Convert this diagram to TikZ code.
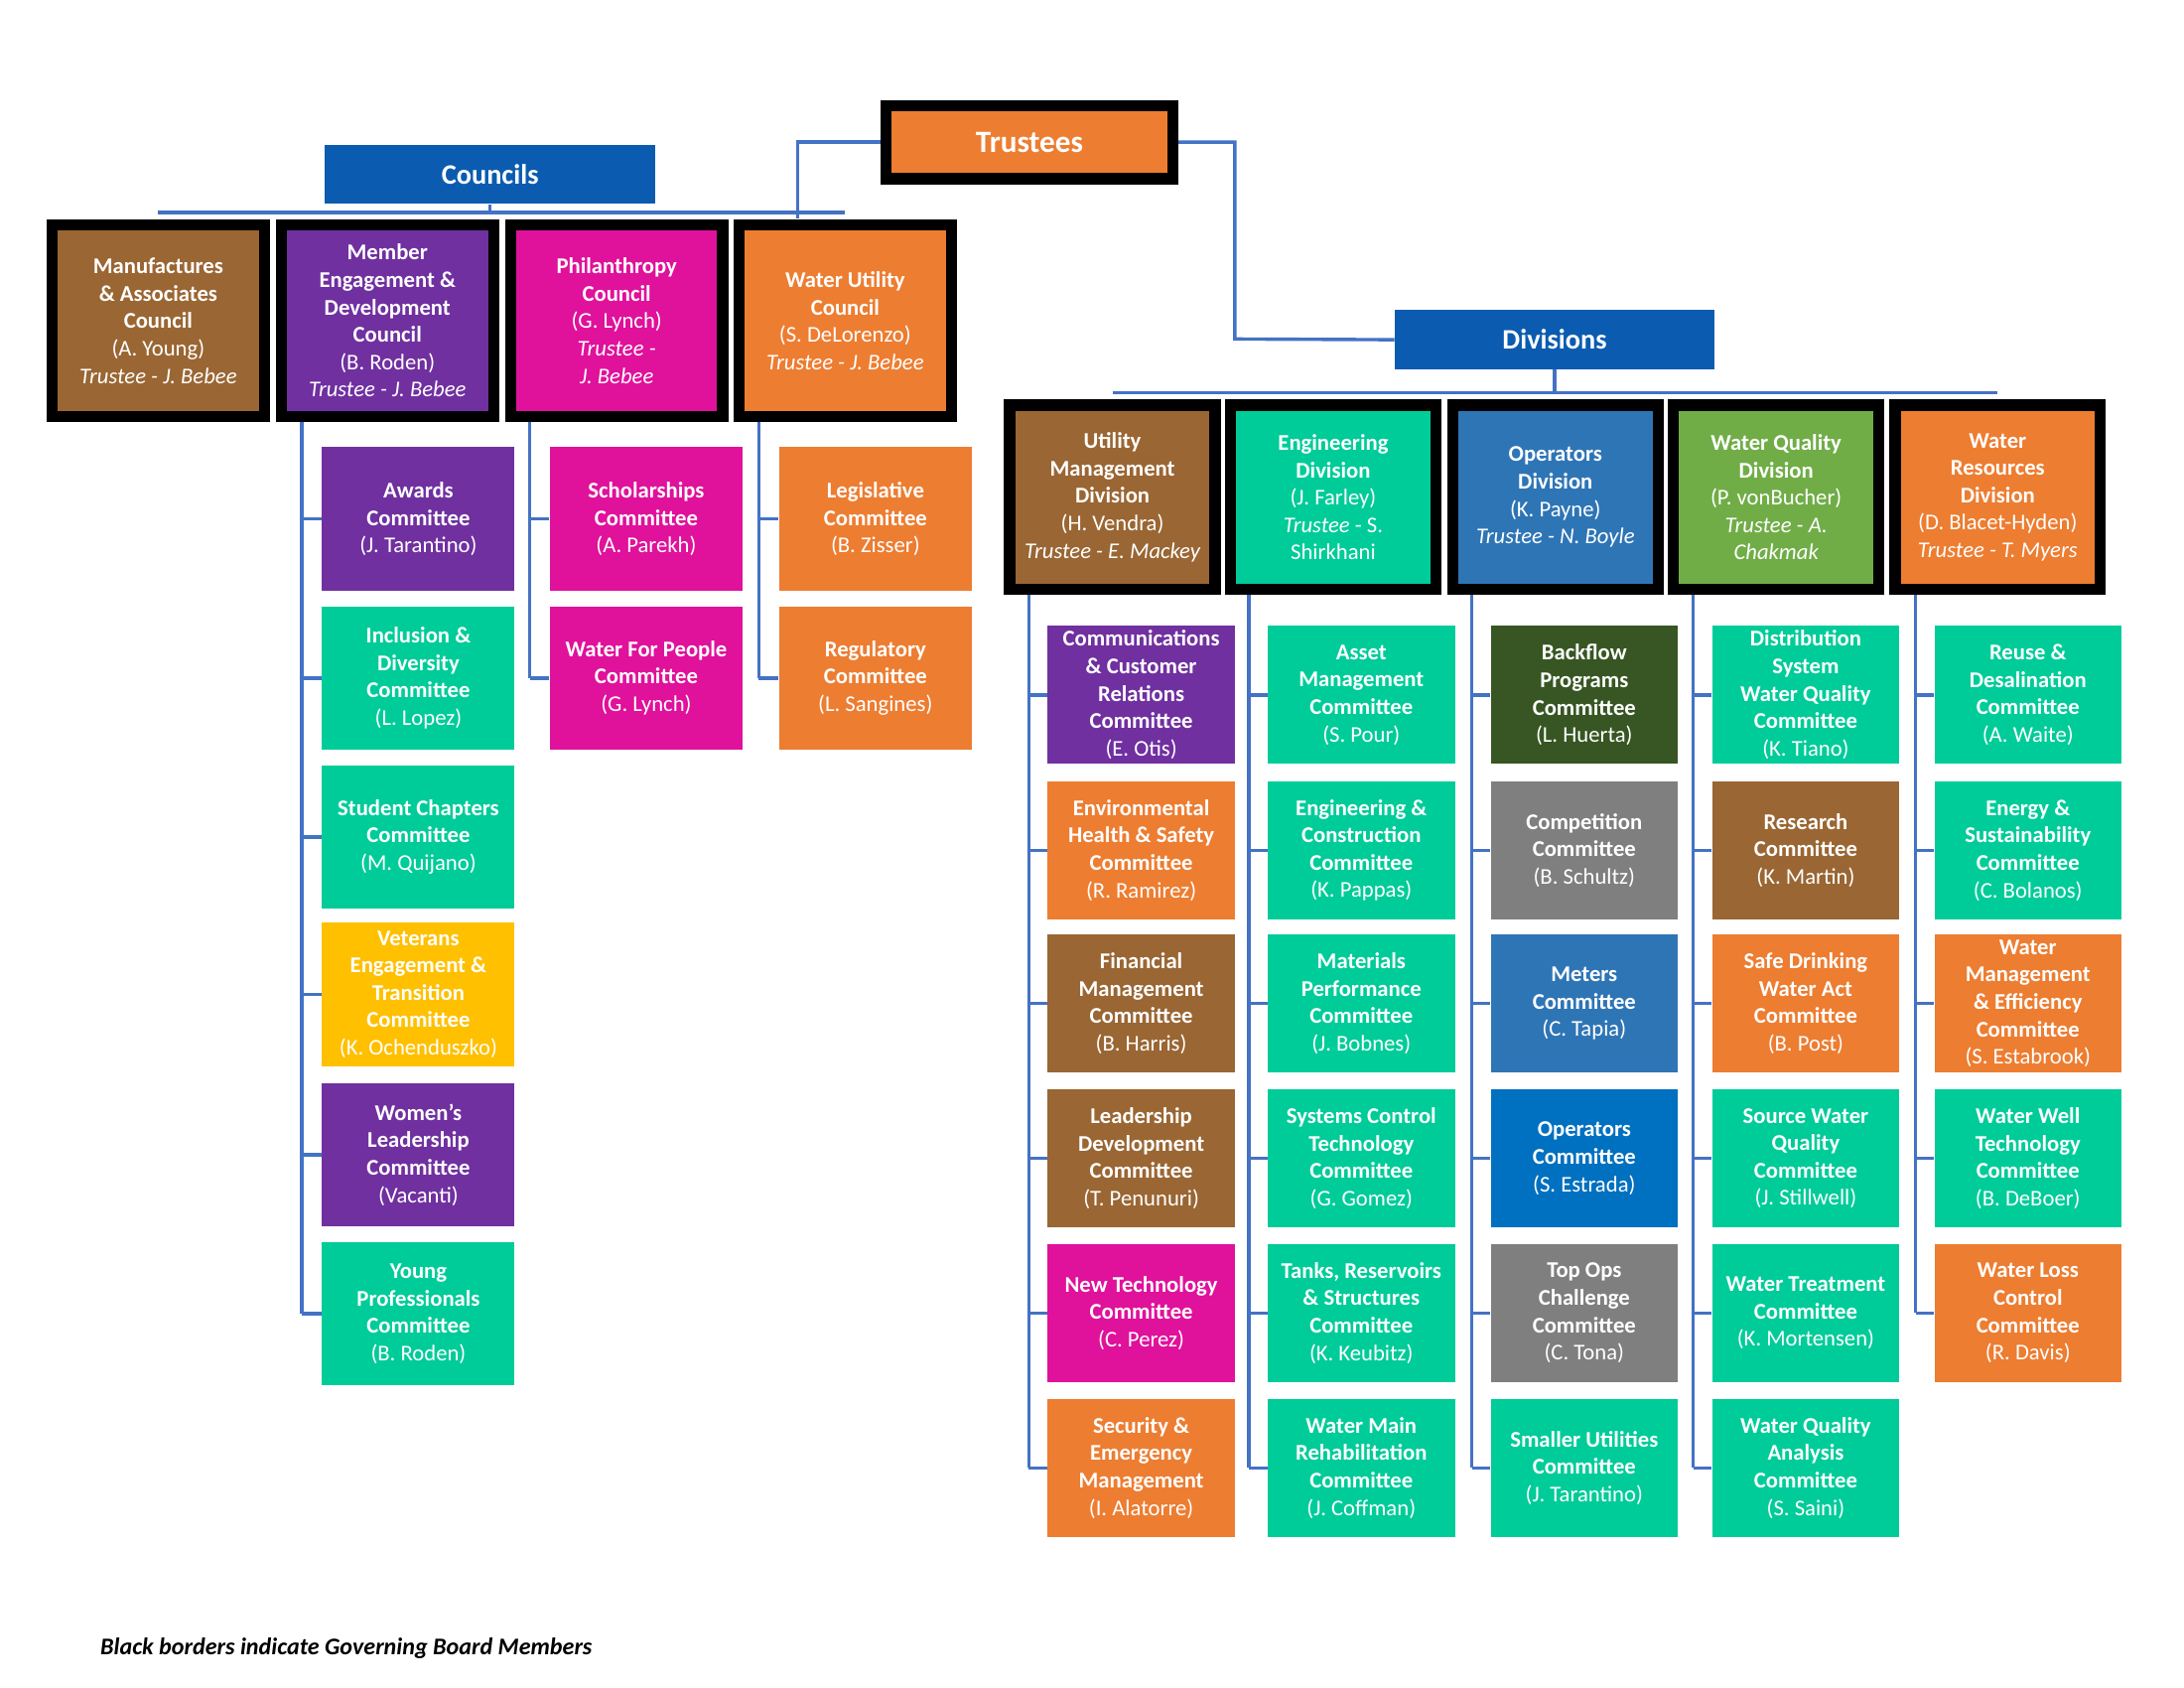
\documentclass[tikz,border=0pt]{standalone}
\usepackage{fontspec}
\setmainfont{Carlito}
\usepackage{tikz}
\definecolor{cbrown}{HTML}{9A6633}
\definecolor{cpurple}{HTML}{7030A0}
\definecolor{cmagenta}{HTML}{E0119B}
\definecolor{corange}{HTML}{ED7D31}
\definecolor{cteal}{HTML}{00CC99}
\definecolor{cyellow}{HTML}{FFC000}
\definecolor{csteel}{HTML}{2E75B6}
\definecolor{chead}{HTML}{0B5CB0}
\definecolor{cblue}{HTML}{0070C0}
\definecolor{cdkgreen}{HTML}{375623}
\definecolor{cgray}{HTML}{7F7F7F}
\definecolor{clime}{HTML}{70AD47}
\definecolor{cline}{HTML}{4472C4}
\newcommand{\pn}[1]{{\mdseries #1}}
\newcommand{\tr}[1]{{\mdseries\itshape #1}}
\tikzset{every node/.style={font=\bfseries\fontsize{8}{9.75}\selectfont, text=white, align=center, inner sep=0pt}}
\begin{document}
\begin{tikzpicture}[x=0.5pt,y=-0.5pt,
  ln/.style={draw=cline, line width=1.2pt},
  head/.style={fill=chead, minimum height=21pt, font=\bfseries\fontsize{10}{12}\selectfont},
  board/.style={draw=black, line width=4pt, minimum width=75.5pt, minimum height=68pt},
  dboard/.style={draw=black, line width=4pt, minimum width=73pt, minimum height=65.5pt},
  ccom/.style={minimum width=68.5pt, minimum height=51pt},
  dcom/.style={minimum width=66.5pt, minimum height=49pt}]
\useasboundingbox (0,0) rectangle (1553,1200);
% top level
\node[draw=black, line width=4pt, fill=corange, minimum width=102pt, minimum height=26pt,
  font=\bfseries\fontsize{11}{13}\selectfont] (trustees) at (732,101) {Trustees};
\node[head, minimum width=117.5pt] (councils) at (348.5,124) {Councils};
\node[head, minimum width=113.5pt] (divisions) at (1105.5,241.5) {Divisions};
% councils
\node[board, fill=cbrown] (c1) at (112.5,228) {Manufactures\\\& Associates\\Council\\\pn{(A. Young)}\\\tr{Trustee - J. Bebee}};
\node[board, fill=cpurple] (c2) at (275.5,228) {Member\\Engagement \&\\Development\\Council\\\pn{(B. Roden)}\\\tr{Trustee - J. Bebee}};
\node[board, fill=cmagenta] (c3) at (438.5,228) {Philanthropy\\Council\\\pn{(G. Lynch)}\\\tr{Trustee -}\\\tr{J. Bebee}};
\node[board, fill=corange] (c4) at (601,228) {Water Utility\\Council\\\pn{(S. DeLorenzo)}\\\tr{Trustee - J. Bebee}};
% divisions
\node[dboard, fill=cbrown] (d1) at (791,353.5) {Utility\\Management\\Division\\\pn{(H. Vendra)}\\\tr{Trustee - E. Mackey}};
\node[dboard, fill=cteal] (d2) at (948,353.5) {Engineering\\Division\\\pn{(J. Farley)}\\\tr{Trustee} \pn{- S.}\\\pn{Shirkhani}};
\node[dboard, fill=csteel] (d3) at (1106,353.5) {Operators\\Division\\\pn{(K. Payne)}\\\tr{Trustee - N. Boyle}};
\node[dboard, fill=clime] (d4) at (1263,353.5) {Water Quality\\Division\\\pn{(P. vonBucher)}\\\tr{Trustee - A.}\\\tr{Chakmak}};
\node[dboard, fill=corange] (d5) at (1420.5,353.5) {Water\\Resources\\Division\\\pn{(D. Blacet-Hyden)}\\\tr{Trustee - T. Myers}};
% council committees
\node[ccom, fill=cpurple] (a1) at (297.5,369) {Awards\\Committee\\\pn{(J. Tarantino)}};
\node[ccom, fill=cteal] (a2) at (297.5,482) {Inclusion \&\\Diversity\\Committee\\\pn{(L. Lopez)}};
\node[ccom, fill=cteal] (a3) at (297.5,595) {Student Chapters\\Committee\\\pn{(M. Quijano)}};
\node[ccom, fill=cyellow] (a4) at (297.5,707) {Veterans\\Engagement \&\\Transition\\Committee\\\pn{(K. Ochenduszko)}};
\node[ccom, fill=cpurple] (a5) at (297.5,821) {Women's\\Leadership\\Committee\\\pn{(Vacanti)}};
\node[ccom, fill=cteal] (a6) at (297.5,934) {Young\\Professionals\\Committee\\\pn{(B. Roden)}};
\node[ccom, fill=cmagenta] (b1) at (459.5,369) {Scholarships\\Committee\\\pn{(A. Parekh)}};
\node[ccom, fill=cmagenta] (b2) at (459.5,482) {Water For People\\Committee\\\pn{(G. Lynch)}};
\node[ccom, fill=corange] (w1) at (622.5,369) {Legislative\\Committee\\\pn{(B. Zisser)}};
\node[ccom, fill=corange] (w2) at (622.5,482) {Regulatory\\Committee\\\pn{(L. Sangines)}};
% utility management
\node[dcom, fill=cpurple] (u1) at (811.5,494) {Communications\\\& Customer\\Relations\\Committee\\\pn{(E. Otis)}};
\node[dcom, fill=corange] (u2) at (811.5,604.5) {Environmental\\Health \& Safety\\Committee\\\pn{(R. Ramirez)}};
\node[dcom, fill=cbrown] (u3) at (811.5,713.5) {Financial\\Management\\Committee\\\pn{(B. Harris)}};
\node[dcom, fill=cbrown] (u4) at (811.5,823.5) {Leadership\\Development\\Committee\\\pn{(T. Penunuri)}};
\node[dcom, fill=cmagenta] (u5) at (811.5,933.5) {New Technology\\Committee\\\pn{(C. Perez)}};
\node[dcom, fill=corange] (u6) at (811.5,1043.5) {Security \&\\Emergency\\Management\\\pn{(I. Alatorre)}};
% engineering
\node[dcom, fill=cteal] (e1) at (968,494) {Asset\\Management\\Committee\\\pn{(S. Pour)}};
\node[dcom, fill=cteal] (e2) at (968,604.5) {Engineering \&\\Construction\\Committee\\\pn{(K. Pappas)}};
\node[dcom, fill=cteal] (e3) at (968,713.5) {Materials\\Performance\\Committee\\\pn{(J. Bobnes)}};
\node[dcom, fill=cteal] (e4) at (968,823.5) {Systems Control\\Technology\\Committee\\\pn{(G. Gomez)}};
\node[dcom, fill=cteal] (e5) at (968,933.5) {Tanks, Reservoirs\\\& Structures\\Committee\\\pn{(K. Keubitz)}};
\node[dcom, fill=cteal] (e6) at (968,1043.5) {Water Main\\Rehabilitation\\Committee\\\pn{(J. Coffman)}};
% operators
\node[dcom, fill=cdkgreen] (o1) at (1126.5,494) {Backflow\\Programs\\Committee\\\pn{(L. Huerta)}};
\node[dcom, fill=cgray] (o2) at (1126.5,604.5) {Competition\\Committee\\\pn{(B. Schultz)}};
\node[dcom, fill=csteel] (o3) at (1126.5,713.5) {Meters\\Committee\\\pn{(C. Tapia)}};
\node[dcom, fill=cblue] (o4) at (1126.5,823.5) {Operators\\Committee\\\pn{(S. Estrada)}};
\node[dcom, fill=cgray] (o5) at (1126.5,933.5) {Top Ops\\Challenge\\Committee\\\pn{(C. Tona)}};
\node[dcom, fill=cteal] (o6) at (1126.5,1043.5) {Smaller Utilities\\Committee\\\pn{(J. Tarantino)}};
% water quality
\node[dcom, fill=cteal] (q1) at (1284,494) {Distribution\\System\\Water Quality\\Committee\\\pn{(K. Tiano)}};
\node[dcom, fill=cbrown] (q2) at (1284,604.5) {Research\\Committee\\\pn{(K. Martin)}};
\node[dcom, fill=corange] (q3) at (1284,713.5) {Safe Drinking\\Water Act\\Committee\\\pn{(B. Post)}};
\node[dcom, fill=cteal] (q4) at (1284,823.5) {Source Water\\Quality\\Committee\\\pn{(J. Stillwell)}};
\node[dcom, fill=cteal] (q5) at (1284,933.5) {Water Treatment\\Committee\\\pn{(K. Mortensen)}};
\node[dcom, fill=cteal] (q6) at (1284,1043.5) {Water Quality\\Analysis\\Committee\\\pn{(S. Saini)}};
% water resources
\node[dcom, fill=cteal] (r1) at (1442,494) {Reuse \&\\Desalination\\Committee\\\pn{(A. Waite)}};
\node[dcom, fill=cteal] (r2) at (1442,604.5) {Energy \&\\Sustainability\\Committee\\\pn{(C. Bolanos)}};
\node[dcom, fill=corange] (r3) at (1442,713.5) {Water\\Management\\\& Efficiency\\Committee\\\pn{(S. Estabrook)}};
\node[dcom, fill=cteal] (r4) at (1442,823.5) {Water Well\\Technology\\Committee\\\pn{(B. DeBoer)}};
\node[dcom, fill=corange] (r5) at (1442,933.5) {Water Loss\\Control\\Committee\\\pn{(R. Davis)}};
% connectors
\coordinate (cbar) at ([yshift=2.5pt]c1.north);
\draw[ln] (cbar) -- (cbar -| c4.north);
\draw[ln] (councils.south) -- (councils.south |- cbar);
\coordinate (tleft) at (567,155);
\draw[ln] (trustees.west) -| (tleft);
\draw[ln] (trustees.east) -| (878,241) -- (divisions.west);
\coordinate (dbar) at ([yshift=2.5pt]d1.north);
\draw[ln] (dbar) -- (dbar -| d5.north);
\draw[ln] (divisions.south) -- (divisions.south |- dbar);
\coordinate (ta) at ([xshift=-7pt]a1.west);
\coordinate (tb) at ([xshift=-7pt]b1.west);
\coordinate (tw) at ([xshift=-7pt]w1.west);
\draw[ln] (ta |- c2.south) -- (ta |- a6.west);
\draw[ln] (tb |- c3.south) -- (tb |- b2.west);
\draw[ln] (tw |- c4.south) -- (tw |- w2.west);
\foreach \n in {a1,a2,a3,a4,a5,a6} \draw[ln] (ta |- \n.west) -- (\n.west);
\foreach \n in {b1,b2} \draw[ln] (tb |- \n.west) -- (\n.west);
\foreach \n in {w1,w2} \draw[ln] (tw |- \n.west) -- (\n.west);
\foreach \d/\c/\last in {d1/u/6,d2/e/6,d3/o/6,d4/q/6,d5/r/5} {
  \coordinate (t\c) at ([xshift=-6.5pt]\c1.west);
  \draw[ln] (t\c |- \d.south) -- (t\c |- \c\last.west);
  \foreach \i in {1,...,\last} \draw[ln] (t\c |- \c\i.west) -- (\c\i.west);
}
\node[anchor=west, text=black, font=\bfseries\itshape\fontsize{8.5}{10}\selectfont] (note) at (71,1172) {Black borders indicate Governing Board Members};
\end{tikzpicture}
\end{document}
